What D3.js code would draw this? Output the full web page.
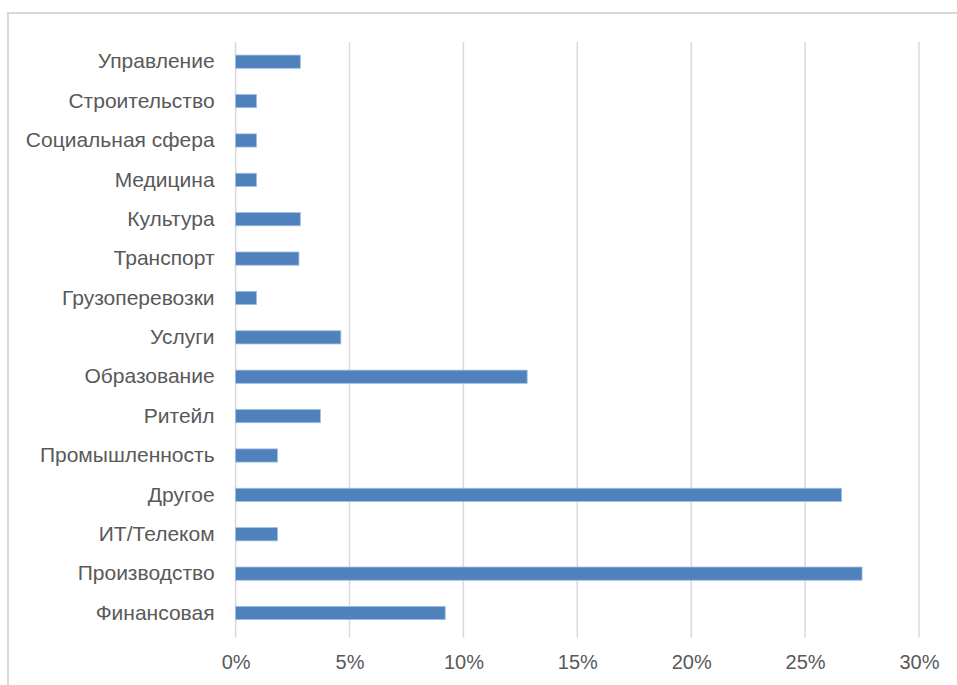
<!DOCTYPE html>
<html>
<head>
<meta charset="utf-8">
<script src="https://cdn.jsdelivr.net/npm/d3@7"></script>
<style>
  body { margin: 0; background: #fff; }
</style>
</head>
<body>
<div id="chart"></div>
<script>
// categories, top to bottom
const categories = ["Управление", "Строительство", "Социальная сфера", "Медицина", "Культура",
  "Транспорт", "Грузоперевозки", "Услуги", "Образование", "Ритейл", "Промышленность",
  "Другое", "ИТ/Телеком", "Производство", "Финансовая"];
// share of answers, %
const values = [2.84, 0.92, 0.92, 0.92, 2.84, 2.78, 0.92, 4.62, 12.8, 3.72, 1.84, 26.6, 1.84, 27.5, 9.2];
const tickValues = [0, 5, 10, 15, 20, 25, 30];

const W = 957, H = 685;
const plot = {left: 235.6, right: 919, top: 42, bottom: 632.7};
const font = "'Liberation Sans', Arial, sans-serif";
const textColor = "#595959";

const svg = d3.select("#chart")
  .append("svg")
    .attr("width", W)
    .attr("height", H);

// outer chart border
svg.append("rect")
  .attr("x", 8).attr("y", 13)
  .attr("width", W + 10).attr("height", H + 10)
  .attr("fill", "#fff")
  .attr("stroke", "#d9d9d9")
  .attr("stroke-width", 2);

//X scale
const x = d3.scaleLinear()
  .domain([0, 30])
  .range([plot.left, plot.right]);

//Y scale
const y = d3.scaleBand()
  .domain(categories)
  .range([plot.top, plot.bottom])
  .padding(0);

//gridlines
svg.append("g")
  .selectAll("line")
  .data(tickValues)
  .join("line")
    .attr("x1", d => x(d)).attr("x2", d => x(d))
    .attr("y1", plot.top).attr("y2", plot.bottom + 5)
    .attr("stroke", "#d9d9d9")
    .attr("stroke-width", 1.5);

//bars
const barH = y.bandwidth() * 0.335;
svg.append("g")
  .selectAll("rect")
  .data(categories.map((c, i) => ({cat: c, v: values[i]})))
  .join("rect")
    .attr("x", x(0))
    .attr("y", d => y(d.cat) + y.bandwidth() / 2 - barH / 2)
    .attr("width", d => x(d.v) - x(0))
    .attr("height", barH)
    .attr("fill", "#4f81bd")
    .attr("stroke", "#9fbde3")
    .attr("stroke-width", 0.8);

//X axis
const xAxis = svg.append("g")
  .attr("transform", `translate(0,${plot.bottom})`)
  .call(d3.axisBottom(x)
    .tickValues(tickValues)
    .tickSize(0)
    .tickPadding(22)
    .tickFormat(d => d + "%"));
xAxis.select(".domain").remove();
xAxis.selectAll("text")
  .style("font-size", "20px")
  .style("font-family", font)
  .attr("fill", textColor);

//Y axis
const yAxis = svg.append("g")
  .attr("transform", `translate(${plot.left},0)`)
  .call(d3.axisLeft(y).tickSize(0).tickPadding(21));
yAxis.select(".domain").remove();
yAxis.selectAll("text")
  .style("font-size", "21px")
  .style("font-family", font)
  .attr("fill", textColor);
</script>
</body>
</html>
